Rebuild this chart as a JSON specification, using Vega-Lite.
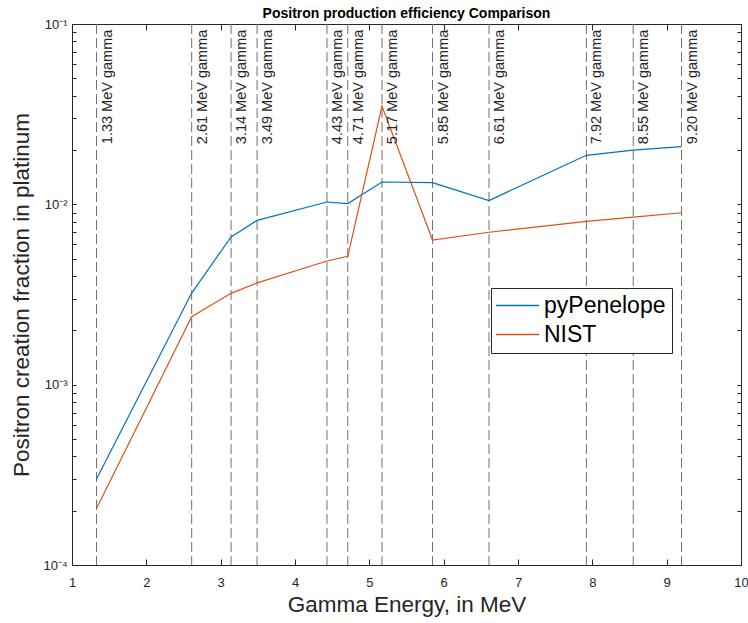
{
  "$schema": "https://vega.github.io/schema/vega-lite/v6.json",
  "width": 669,
  "height": 541,
  "autosize": {"type": "none"},
  "padding": {"left": 72, "top": 24, "right": 7, "bottom": 58},
  "config": {
    "font": "Liberation Sans",
    "view": {"stroke": "#262626", "strokeWidth": 1},
    "axis": {"grid": false, "domainColor": "#262626", "tickColor": "#262626", "labelColor": "#262626", "titleColor": "#262626", "titleFontWeight": "normal"}
  },
  "title": {"text": "Positron production efficiency Comparison", "fontSize": 14, "fontWeight": "bold", "color": "#000000", "anchor": "middle", "offset": -3},
  "datasets": {
    "lines": [
      {"energy": 1.33, "value": 0.000300, "series": "pyPenelope"},
      {"energy": 2.61, "value": 0.00322, "series": "pyPenelope"},
      {"energy": 3.14, "value": 0.0066, "series": "pyPenelope"},
      {"energy": 3.49, "value": 0.00815, "series": "pyPenelope"},
      {"energy": 4.43, "value": 0.0103, "series": "pyPenelope"},
      {"energy": 4.71, "value": 0.0101, "series": "pyPenelope"},
      {"energy": 5.17, "value": 0.0133, "series": "pyPenelope"},
      {"energy": 5.85, "value": 0.0132, "series": "pyPenelope"},
      {"energy": 6.61, "value": 0.0105, "series": "pyPenelope"},
      {"energy": 7.92, "value": 0.0187, "series": "pyPenelope"},
      {"energy": 8.55, "value": 0.0200, "series": "pyPenelope"},
      {"energy": 9.20, "value": 0.0209, "series": "pyPenelope"},
      {"energy": 1.33, "value": 0.000206, "series": "NIST"},
      {"energy": 2.61, "value": 0.00238, "series": "NIST"},
      {"energy": 3.14, "value": 0.00321, "series": "NIST"},
      {"energy": 3.49, "value": 0.00367, "series": "NIST"},
      {"energy": 4.43, "value": 0.00485, "series": "NIST"},
      {"energy": 4.71, "value": 0.00515, "series": "NIST"},
      {"energy": 5.17, "value": 0.0351, "series": "NIST"},
      {"energy": 5.85, "value": 0.00634, "series": "NIST"},
      {"energy": 6.61, "value": 0.0070, "series": "NIST"},
      {"energy": 7.92, "value": 0.00805, "series": "NIST"},
      {"energy": 8.55, "value": 0.0085, "series": "NIST"},
      {"energy": 9.20, "value": 0.00898, "series": "NIST"}
    ],
    "gammas": [
      {"energy": 1.33, "label": "1.33 MeV gamma"},
      {"energy": 2.61, "label": "2.61 MeV gamma"},
      {"energy": 3.14, "label": "3.14 MeV gamma"},
      {"energy": 3.49, "label": "3.49 MeV gamma"},
      {"energy": 4.43, "label": "4.43 MeV gamma"},
      {"energy": 4.71, "label": "4.71 MeV gamma"},
      {"energy": 5.17, "label": "5.17 MeV gamma"},
      {"energy": 5.85, "label": "5.85 MeV gamma"},
      {"energy": 6.61, "label": "6.61 MeV gamma"},
      {"energy": 7.92, "label": "7.92 MeV gamma"},
      {"energy": 8.55, "label": "8.55 MeV gamma"},
      {"energy": 9.20, "label": "9.20 MeV gamma"}
    ]
  },
  "resolve": {"axis": {"x": "independent", "y": "independent"}},
  "layer": [
    {
      "data": {"name": "gammas"},
      "mark": {"type": "rule", "color": "#707070", "strokeWidth": 1, "strokeDash": [10, 4]},
      "encoding": {
        "x": {"field": "energy", "type": "quantitative", "scale": {"domain": [1, 10], "nice": false, "zero": false}, "axis": null}
      }
    },
    {
      "data": {"name": "lines"},
      "mark": {"type": "line", "strokeWidth": 1.2},
      "encoding": {
        "x": {"field": "energy", "type": "quantitative", "scale": {"domain": [1, 10], "nice": false, "zero": false},
          "axis": {"orient": "bottom", "values": [1, 2, 3, 4, 5, 6, 7, 8, 9, 10], "tickSize": -6, "labelPadding": 17, "labelFontSize": 13, "labelFlush": false, "title": "Gamma Energy, in MeV", "titleFontSize": 22.5, "titlePadding": 4}},
        "y": {"field": "value", "type": "quantitative", "scale": {"type": "log", "domain": [0.0001, 0.1], "nice": false},
          "axis": {"orient": "left", "values": [0.0001, 0.0002, 0.0003, 0.0004, 0.0005, 0.0006, 0.0007, 0.0008, 0.0009, 0.001, 0.002, 0.003, 0.004, 0.005, 0.006, 0.007, 0.008, 0.009, 0.01, 0.02, 0.03, 0.04, 0.05, 0.06, 0.07, 0.08, 0.09, 0.1],
            "labelExpr": "datum.value == 0.1 ? '10⁻¹' : datum.value == 0.01 ? '10⁻²' : datum.value == 0.001 ? '10⁻³' : datum.value == 0.0001 ? '10⁻⁴' : ''",
            "tickSize": -4, "labelPadding": 9, "labelFontSize": 13, "labelFlush": false, "title": "Positron creation fraction in platinum", "titleFontSize": 22.5, "titlePadding": 9}},
        "color": {"field": "series", "type": "nominal", "scale": {"domain": ["pyPenelope", "NIST"], "range": ["#0072BD", "#D95319"]},
          "legend": {"title": null, "orient": "none", "legendX": 419, "legendY": 264, "symbolType": "M-2,0H2", "symbolSize": 462, "symbolStrokeWidth": 1.5, "symbolOffset": 9, "labelFontSize": 23, "labelColor": "#000000", "labelOffset": 15, "rowPadding": 5, "padding": 6, "fillColor": "#ffffff", "strokeColor": "#262626", "labelLimit": 300}}
      }
    },
    {
      "data": {"name": "gammas"},
      "mark": {"type": "text", "angle": 270, "align": "right", "baseline": "top", "dy": 4, "fontSize": 14.5, "color": "#262626"},
      "encoding": {
        "x": {"field": "energy", "type": "quantitative", "scale": {"domain": [1, 10], "nice": false, "zero": false},
          "axis": {"orient": "top", "values": [1, 2, 3, 4, 5, 6, 7, 8, 9, 10], "tickSize": -6, "labels": false, "title": null, "domain": false}},
        "y": {"datum": 0.093, "type": "quantitative", "scale": {"type": "log", "domain": [0.0001, 0.1], "nice": false},
          "axis": {"orient": "right", "values": [0.0001, 0.0002, 0.0003, 0.0004, 0.0005, 0.0006, 0.0007, 0.0008, 0.0009, 0.001, 0.002, 0.003, 0.004, 0.005, 0.006, 0.007, 0.008, 0.009, 0.01, 0.02, 0.03, 0.04, 0.05, 0.06, 0.07, 0.08, 0.09, 0.1], "tickSize": -4, "labels": false, "title": null, "domain": false}},
        "text": {"field": "label", "type": "nominal"}
      }
    }
  ]
}
